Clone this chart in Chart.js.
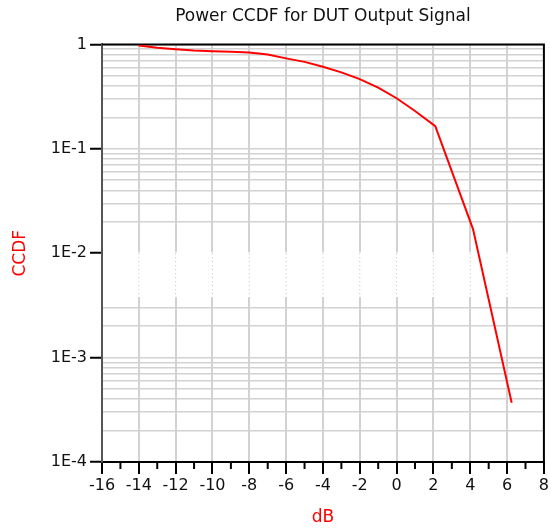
<!DOCTYPE html>
<html>
<head>
<meta charset="utf-8">
<script src="https://cdn.jsdelivr.net/npm/chart.js@4/dist/chart.umd.min.js"></script>
<style>
  html, body { margin: 0; padding: 0; background: #fff; }
  #wrap { width: 551px; height: 529px; }
</style>
</head>
<body>
<div id="wrap"><canvas id="chart"></canvas></div>
<script>
// CCDF curve (dB vs probability)
const dbValues   = [-14, -13, -12, -11, -10, -9, -8, -7, -6, -5, -4, -3, -2, -1, 0, 1, 2.1, 4.15, 6.25];
const ccdfValues = [0.975, 0.93, 0.90, 0.875, 0.86, 0.85, 0.835, 0.80, 0.735, 0.68, 0.61, 0.54, 0.465, 0.385, 0.305, 0.23, 0.165, 0.017, 0.00037];

const xMajorTicks = [-16, -14, -12, -10, -8, -6, -4, -2, 0, 2, 4, 6, 8];
const xMinorTicks = [-15, -13, -11, -9, -7, -5, -3, -1, 1, 3, 5, 7];
const decadeValues = [1e-4, 1e-3, 1e-2, 1e-1, 1];
const decadeLabels = ['1E-4', '1E-3', '1E-2', '1E-1', '1'];
const minorMantissas = [2, 3, 4, 5, 6, 7, 8, 9];

const GRID = '#d2d2d2';
const NONE = 'rgba(0,0,0,0)';

const isDecade = v => decadeValues.some(d => Math.abs(d - v) / d < 1e-6);
const inFadedBand = v => v > 3.5e-3 && v < 1.05e-2;

// top/right frame, minor x ticks and the faded stretch of grid in the 1E-2 decade
const framePlugin = {
  id: 'frame',
  beforeDatasetsDraw(chart) {
    const { ctx, chartArea: a, scales: { x, y } } = chart;
    ctx.save();

    const yTop = y.getPixelForValue(1e-2);
    const yBot = y.getPixelForValue(3.8e-3);
    ctx.fillStyle = '#fff';
    ctx.fillRect(a.left + 2, yTop - 1, a.right - a.left - 4, yBot - yTop + 1);
    ctx.strokeStyle = '#bbb';
    ctx.lineWidth = 1;
    ctx.setLineDash([1, 3]);
    xMajorTicks.slice(1, -1).forEach(v => {
      const px = x.getPixelForValue(v);
      ctx.beginPath();
      ctx.moveTo(px, yTop);
      ctx.lineTo(px, yBot);
      ctx.stroke();
    });
    ctx.setLineDash([]);

    ctx.strokeStyle = '#000';
    ctx.lineWidth = 2;
    xMinorTicks.forEach(v => {
      const px = x.getPixelForValue(v);
      ctx.beginPath();
      ctx.moveTo(px, a.bottom);
      ctx.lineTo(px, a.bottom + 7);
      ctx.stroke();
    });

    ctx.beginPath();
    ctx.moveTo(a.left, a.top);
    ctx.lineTo(a.right, a.top);
    ctx.lineTo(a.right, a.bottom);
    ctx.stroke();
    ctx.restore();
  }
};

Chart.defaults.font.family = "'DejaVu Sans', sans-serif";

const ctx = document.getElementById('chart').getContext('2d');
const chart = new Chart(ctx, {
  type: 'line',
  data: {
    datasets: [{
      label: 'CCDF',
      data: dbValues.map((x, i) => ({ x: x, y: ccdfValues[i] })),
      borderColor: '#ff0000',
      borderWidth: 2,
      pointRadius: 0,
      tension: 0,
      fill: false
    }]
  },
  options: {
    responsive: true,
    maintainAspectRatio: false,
    animation: false,
    layout: { padding: { left: 0, right: 3, top: 0, bottom: 0 } },
    plugins: {
      legend: { display: false },
      tooltip: { enabled: false },
      title: {
        display: true,
        fullSize: false,
        text: 'Power CCDF for DUT Output Signal',
        color: '#111',
        font: { size: 17, weight: 'normal' },
        padding: { top: 6, bottom: 18 }
      }
    },
    scales: {
      x: {
        type: 'linear',
        min: -16,
        max: 8,
        afterBuildTicks(s) { s.ticks = xMajorTicks.map(v => ({ value: v })); },
        afterFit(s) { s.height = 67; },
        ticks: {
          autoSkip: false,
          maxRotation: 0,
          padding: 2,
          color: '#111',
          font: { size: 16 },
          callback: v => String(v)
        },
        grid: {
          color: c => (c.tick && c.tick.value > -16 && c.tick.value < 8) ? GRID : NONE,
          lineWidth: 2,
          tickColor: '#000',
          tickWidth: 2,
          tickLength: 12
        },
        border: { color: '#000', width: 2 },
        title: {
          display: true,
          text: 'dB',
          color: '#ff0000',
          font: { size: 17 },
          padding: { top: 0, bottom: 1 }
        }
      },
      y: {
        type: 'logarithmic',
        min: 1e-4,
        max: 1,
        afterBuildTicks(s) {
          const t = [];
          decadeValues.forEach(d => {
            t.push({ value: d });
            if (d < 1) minorMantissas.forEach(m => t.push({ value: m * d }));
          });
          s.ticks = t;
        },
        afterFit(s) { s.width = 102; },
        ticks: {
          autoSkip: false,
          padding: 3,
          color: '#111',
          font: { size: 16 },
          callback: v => {
            const i = decadeValues.findIndex(d => Math.abs(d - v) / d < 1e-6);
            return i >= 0 ? decadeLabels[i] : '';
          }
        },
        grid: {
          color: c => (c.tick && inFadedBand(c.tick.value)) ? NONE : GRID,
          lineWidth: 1.5,
          tickColor: c => (c.tick && isDecade(c.tick.value)) ? '#000' : NONE,
          tickWidth: 2,
          tickLength: 12
        },
        border: { color: '#555', width: 2 },
        title: {
          display: true,
          text: 'CCDF',
          color: '#ff0000',
          font: { size: 17 },
          padding: { top: 10, bottom: 0 }
        }
      }
    }
  },
  plugins: [framePlugin]
});
</script>
</body>
</html>
